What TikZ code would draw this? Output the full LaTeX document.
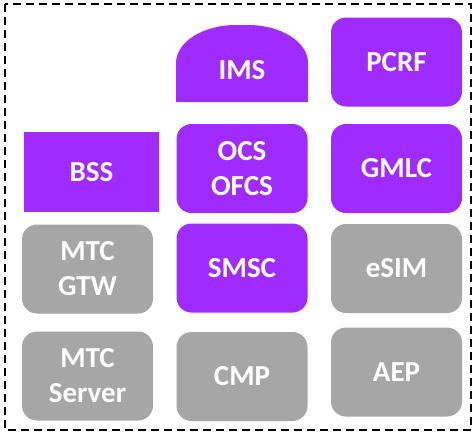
\documentclass[tikz,border=0pt]{standalone}
\usepackage{fontspec}
\setmainfont{Carlito}
\usepackage{tikz}
\definecolor{netpurple}{RGB}{160,43,254}
\definecolor{netgray}{RGB}{166,166,166}
\tikzset{
  box/.style={text=white,font=\bfseries\fontsize{29}{35}\selectfont,align=center,
    minimum width=131pt,minimum height=89pt,inner sep=0pt},
  purplebox/.style={box,fill=netpurple,rounded corners=15pt},
  graybox/.style={box,fill=netgray,rounded corners=15pt}
}

\begin{document}
\begin{tikzpicture}[x=1pt,y=-1pt]
  \useasboundingbox (0,0) rectangle (474,432);
  \draw[line width=2.4pt,dash pattern=on 8pt off 5pt](5,4) rectangle (471,430);
  % IMS with rounded top
  \fill[netpurple](176,102)--(176,63) arc[start angle=180,end angle=270,x radius=60,y radius=38]
    --(248,25) arc[start angle=270,end angle=360,x radius=60,y radius=38]--(308,102)--cycle;
  \node[box,minimum height=0pt] (ims) at (242,70) {IMS};
  \node[purplebox] (pcrf) at (396.5,62) {PCRF};
  \node[box,fill=netpurple,minimum width=135pt,minimum height=80pt] (bss) at (91.5,172) {BSS};
  \node[purplebox] (ocs) at (242,168.5) {OCS\\OFCS};
  \node[purplebox] (gmlc) at (396.5,168.5) {GMLC};
  \node[graybox] (mtcgtw) at (87.5,269) {MTC\\GTW};
  \node[purplebox] (smsc) at (242,268) {SMSC};
  \node[graybox] (esim) at (396.5,268.5) {eSIM};
  \node[graybox] (mtcserver) at (87.5,376) {MTC\\Server};
  \node[graybox] (cmp) at (242,376.5) {CMP};
  \node[graybox] (aep) at (396.5,372) {AEP};
\end{tikzpicture}
\end{document}
